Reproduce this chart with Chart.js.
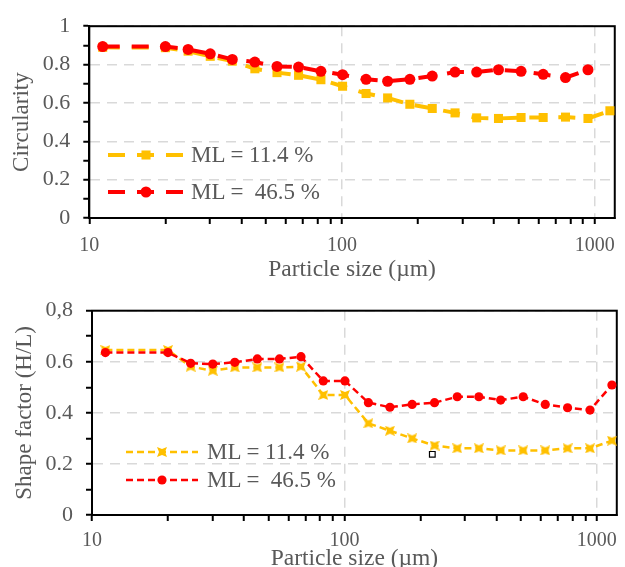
<!DOCTYPE html>
<html>
<head>
<meta charset="utf-8">
<script src="https://cdn.jsdelivr.net/npm/chart.js@4.4.0/dist/chart.umd.min.js"></script>
<style>
    html, body { margin: 0; padding: 0; background: #fff; overflow: hidden; width: 625px; height: 567px; }
    .box { position: absolute; left: 0; width: 625px; }
    .legend div { position: absolute; display: flex; align-items: center; white-space: pre; height: 24px;
        font-family: "Liberation Serif", "Times New Roman", serif; font-size: 23px; color: #595959; }
</style>
</head>
<body>
<div class="box" style="top:0;height:284px"><canvas id="top-chart"></canvas></div>
<div class="box" style="top:283px;height:290px"><canvas id="bottom-chart"></canvas></div>
<div id="top-legend" class="legend"></div>
<div id="bottom-legend" class="legend"></div>
<script>
// Particle size classes (µm)
const sizes = [11.3, 20, 24.6, 30.1, 36.8, 45.2, 55.3, 67.3, 82.5, 100.5, 124.5, 151.5,
    185.5, 227.5, 280, 341, 416, 511, 625, 766, 940, 1148];

// Circularity
const circLow = [0.89, 0.888, 0.87, 0.843, 0.818, 0.778, 0.758, 0.744, 0.721, 0.687, 0.649, 0.626,
    0.593, 0.571, 0.548, 0.522, 0.519, 0.524, 0.524, 0.526, 0.519, 0.559];
const circHigh = [0.894, 0.894, 0.879, 0.856, 0.827, 0.813, 0.79, 0.787, 0.765, 0.747, 0.723, 0.713,
    0.723, 0.74, 0.761, 0.761, 0.773, 0.765, 0.749, 0.732, 0.773];

// Shape factor (H/L)
const shapeLow = [0.646, 0.646, 0.581, 0.565, 0.578, 0.578, 0.578, 0.581, 0.47, 0.47, 0.359, 0.33,
    0.30, 0.272, 0.261, 0.261, 0.253, 0.253, 0.253, 0.261, 0.261, 0.291];
const shapeHigh = [0.636, 0.636, 0.594, 0.591, 0.598, 0.611, 0.611, 0.62, 0.525, 0.525, 0.44, 0.422,
    0.433, 0.44, 0.463, 0.463, 0.45, 0.463, 0.433, 0.42, 0.411, 0.509];

// stray little square in the lower plot
const strayX = [223];
const strayY = [0.2375];

const seriesNames = ['ML = 11.4 %', 'ML =  46.5 %'];

const xTicks = [10, 20, 30, 40, 50, 60, 70, 80, 90, 100, 200, 300, 400, 500, 600, 700, 800, 900, 1000];
const xLabels = ['10', '', '', '', '', '', '', '', '', '100', '', '', '', '', '', '', '', '', '1000'];
const topYTicks = [0, 0.1, 0.2, 0.3, 0.4, 0.5, 0.6, 0.7, 0.8, 0.9, 1];
const topYLabels = ['0', '', '0.2', '', '0.4', '', '0.6', '', '0.8', '', '1'];
const bottomYTicks = [0, 0.1, 0.2, 0.3, 0.4, 0.5, 0.6, 0.7, 0.8];
const bottomYLabels = ['0', '', '0.2', '', '0.4', '', '0.6', '', '0,8'];

const YELLOW = '#FFC000';
const RED = '#FF0000';
const TEXT = '#595959';
const SERIF = '"Liberation Serif", "Times New Roman", serif';

Chart.defaults.font.family = SERIF;
Chart.defaults.color = TEXT;

function pts(xs, ys) {
    return ys.map((y, i) => ({ x: xs[i], y }));
}

// yellow marker of the lower plot: square with pinched sides
function makePinched(size, color) {
    const c = document.createElement('canvas');
    c.width = size; c.height = size;
    const g = c.getContext('2d');
    const k = size * 0.2;
    g.fillStyle = color;
    g.beginPath();
    g.moveTo(0, 0); g.lineTo(size / 2, k); g.lineTo(size, 0);
    g.lineTo(size - k, size / 2); g.lineTo(size, size);
    g.lineTo(size / 2, size - k); g.lineTo(0, size);
    g.lineTo(k, size / 2);
    g.closePath();
    g.fill();
    return c;
}
const pinched = makePinched(10, YELLOW);

const frame = {
    id: 'frame',
    beforeDatasetsDraw(chart) {
        const { ctx, chartArea: a } = chart;
        ctx.save();
        ctx.strokeStyle = '#000';
        ctx.lineWidth = 2;
        ctx.strokeRect(a.left, a.top, a.right - a.left, a.bottom - a.top);
        ctx.restore();
    }
};

function setTicks(values) {
    return scale => { scale.ticks = values.map(v => ({ value: v })); };
}

function xAxis(labelPad, height) {
    return {
        type: 'logarithmic',
        min: 10,
        max: 1200,
        afterBuildTicks: setTicks(xTicks),
        afterFit: s => { s.height = height; },
        ticks: {
            autoSkip: false, maxRotation: 0, padding: labelPad,
            font: { size: 20 }, color: TEXT,
            callback: (v, i) => xLabels[i]
        },
        grid: {
            color: c => (c.tick && xLabels[c.index] && c.tick.value !== 10) ? '#D9D9D9' : 'rgba(0,0,0,0)',
            lineWidth: 1.5,
            tickColor: '#000', tickWidth: 2, tickLength: 6
        },
        border: { color: '#000', width: 2, dash: [10, 7] },
        title: {
            display: true, text: 'Particle size (µm)',
            font: { size: 23.5 }, color: TEXT, padding: { top: 0, bottom: 0 }
        }
    };
}

function yAxis(max, values, labels, width, title, titlePad) {
    return {
        min: 0,
        max: max,
        afterBuildTicks: setTicks(values),
        afterFit: s => { s.width = width; },
        ticks: {
            autoSkip: false, padding: 13,
            font: { size: 22 }, color: TEXT,
            callback: (v, i) => labels[i]
        },
        grid: {
            color: c => (c.tick && labels[c.index] && c.tick.value !== 0) ? '#D9D9D9' : 'rgba(0,0,0,0)',
            lineWidth: 1.5,
            tickColor: '#000', tickWidth: 2, tickLength: 6
        },
        border: { color: '#000', width: 2, dash: [10, 7] },
        title: {
            display: true, text: title,
            font: { size: 23 }, color: TEXT, padding: { top: titlePad, bottom: 0 }
        }
    };
}

const topDatasets = [
    {
        label: seriesNames[0], data: pts(sizes, circLow), order: 2,
        borderColor: YELLOW, backgroundColor: YELLOW, borderWidth: 4, borderDash: [17, 12],
        pointStyle: 'rect', pointRadius: 6.4, pointBorderWidth: 0
    },
    {
        label: seriesNames[1], data: pts(sizes, circHigh), order: 1,
        borderColor: RED, backgroundColor: RED, borderWidth: 4, borderDash: [17, 12],
        pointStyle: 'circle', pointRadius: 5.5, pointBorderWidth: 0
    }
];

const bottomDatasets = [
    {
        label: seriesNames[0], data: pts(sizes, shapeLow), order: 2,
        borderColor: YELLOW, backgroundColor: YELLOW, borderWidth: 2.5, borderDash: [7, 4],
        pointStyle: pinched, pointRadius: 5, pointBorderWidth: 0
    },
    {
        label: seriesNames[1], data: pts(sizes, shapeHigh), order: 1,
        borderColor: RED, backgroundColor: RED, borderWidth: 2.5, borderDash: [7, 4],
        pointStyle: 'circle', pointRadius: 4.6, pointBorderWidth: 0
    },
    {
        label: 'stray', data: pts(strayX, strayY), order: 0, showLine: false,
        pointStyle: 'rect', pointRadius: 4, backgroundColor: '#fff',
        borderColor: '#000', pointBorderWidth: 1.2
    }
];

function makeChart(id, datasets, yOpts, pad) {
    return new Chart(document.getElementById(id), {
        type: 'line',
        data: { datasets },
        options: {
            responsive: true,
            maintainAspectRatio: false,
            animation: false,
            clip: false,
            layout: { padding: pad },
            plugins: { legend: { display: false }, tooltip: { enabled: false } },
            scales: { x: xAxis(pad.labelPad, pad.xHeight), y: yOpts }
        },
        plugins: [frame]
    });
}

makeChart('top-chart', topDatasets,
    yAxis(1, topYTicks, topYLabels, 89.3, 'Circularity', 8.2),
    { top: 23.5, right: 4, bottom: 0, left: 0, labelPad: 10, xHeight: 66 });

makeChart('bottom-chart', bottomDatasets,
    yAxis(0.8, bottomYTicks, bottomYLabels, 92, 'Shape factor (H/L)', 11.2),
    { top: 27.7, right: 4, bottom: 0, left: 0, labelPad: 8, xHeight: 58 });

// HTML legends drawn from the datasets' own styles
function drawSample(canvas, ds) {
    const g = canvas.getContext('2d');
    const w = canvas.width, h = canvas.height, mid = w / 2;
    g.strokeStyle = ds.borderColor;
    g.lineWidth = ds.borderWidth;
    g.setLineDash(ds.borderDash);
    g.beginPath();
    g.moveTo(0, h / 2);
    g.lineTo(w, h / 2);
    g.stroke();
    g.fillStyle = ds.backgroundColor;
    const r = ds.pointRadius;
    if (ds.pointStyle === 'circle') {
        g.beginPath();
        g.arc(mid, h / 2, r, 0, Math.PI * 2);
        g.fill();
    } else if (ds.pointStyle === 'rect') {
        const s = r * Math.SQRT1_2;
        g.fillRect(mid - s, h / 2 - s, 2 * s, 2 * s);
    } else {
        const img = ds.pointStyle;
        g.drawImage(img, mid - img.width / 2, h / 2 - img.height / 2);
    }
}

function buildLegend(id, datasets, left, centers, width, gap) {
    const box = document.getElementById(id);
    datasets.slice(0, 2).forEach((ds, i) => {
        const item = document.createElement('div');
        item.style.left = left + 'px';
        item.style.top = (centers[i] - 12) + 'px';
        const c = document.createElement('canvas');
        c.width = width; c.height = 20;
        drawSample(c, ds);
        const span = document.createElement('span');
        span.style.marginLeft = gap + 'px';
        span.textContent = ds.label;
        item.appendChild(c);
        item.appendChild(span);
        box.appendChild(item);
    });
}

buildLegend('top-legend', topDatasets, 108, [155, 192], 76, 7);
buildLegend('bottom-legend', bottomDatasets, 126, [452, 480], 72, 9);
</script>
</body>
</html>
